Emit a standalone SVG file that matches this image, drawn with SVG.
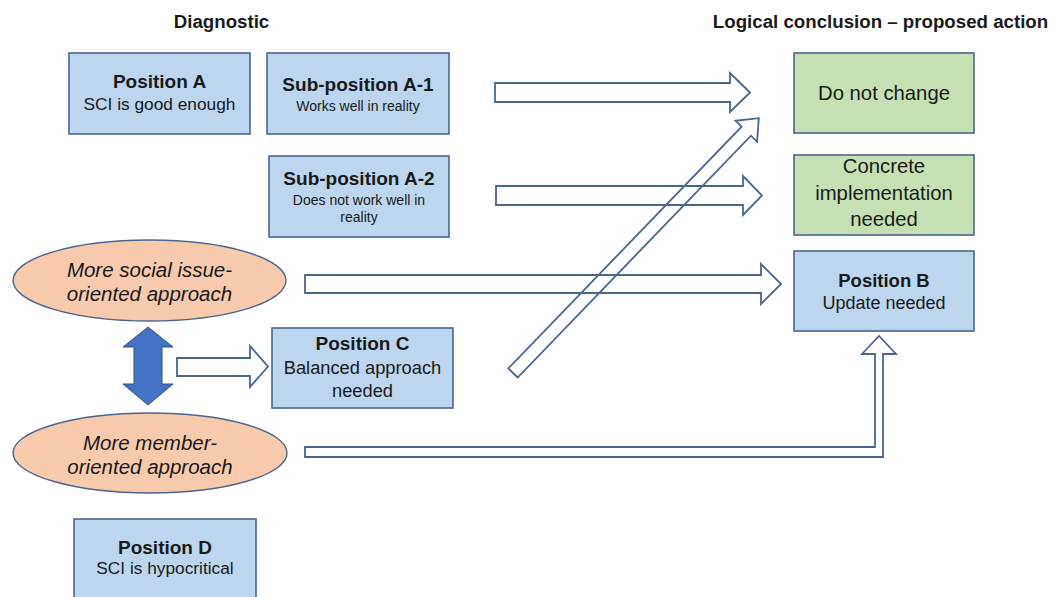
<svg xmlns="http://www.w3.org/2000/svg" width="1055" height="597" viewBox="0 0 1055 597">
<style>
text{font-family:"Liberation Sans",Arial,sans-serif;fill:#1a1a1a;text-anchor:middle}
.title{font-weight:bold;font-size:18.7px}
.bx{fill:#bdd6ee;stroke:#4a6690;stroke-width:1.6}
.gb{fill:#c6e0b4;stroke:#4a6690;stroke-width:1.6}
.el{fill:#f7caac;stroke:#4a6690;stroke-width:1.4}
.hd{font-weight:bold;font-size:19px}
.sub{font-size:17.3px}
.sm{font-size:14px}
.big{font-size:20.3px}
.it{font-style:italic;font-size:20.5px}
.arr{fill:none;stroke:#4a6690;stroke-width:1.8;stroke-linejoin:miter}
</style>
<rect width="1055" height="597" fill="#ffffff"/>
<text class="title" x="221.5" y="28">Diagnostic</text>
<text class="title" x="880.5" y="28">Logical conclusion – proposed action</text>

<g id="posA">
<rect class="bx" x="69" y="53" width="181" height="81"/>
<text class="hd" x="159.5" y="88">Position A</text>
<text class="sub" x="159.5" y="110">SCI is good enough</text>
</g>
<g id="subA1">
<rect class="bx" x="267" y="53" width="182" height="81"/>
<text class="hd" x="358" y="91">Sub-position A-1</text>
<text class="sm" x="358" y="111">Works well in reality</text>
</g>
<g id="subA2">
<rect class="bx" x="269" y="156" width="180" height="81"/>
<text class="hd" x="359" y="185">Sub-position A-2</text>
<text class="sm" x="359" y="205">Does not work well in</text>
<text class="sm" x="359" y="222">reality</text>
</g>
<g id="social">
<ellipse class="el" cx="149.5" cy="280.5" rx="136.5" ry="40.5"/>
<text class="it" x="149.5" y="277">More social issue-</text>
<text class="it" x="149.5" y="301">oriented approach</text>
</g>
<g id="posC">
<rect class="bx" x="272" y="328" width="181" height="80"/>
<text class="hd" x="362.5" y="350">Position C</text>
<text class="sub" x="362.5" y="374" style="font-size:18.3px">Balanced approach</text>
<text class="sub" x="362.5" y="397" style="font-size:18.3px">needed</text>
</g>
<g id="member">
<ellipse class="el" cx="150" cy="453" rx="137" ry="40"/>
<text class="it" x="150" y="449.5">More member-</text>
<text class="it" x="150" y="473.5">oriented approach</text>
</g>
<g id="posD">
<rect class="bx" x="74" y="519" width="182" height="81"/>
<text class="hd" x="165" y="554">Position D</text>
<text class="sub" x="165" y="574">SCI is hypocritical</text>
</g>
<g id="noChange">
<rect class="gb" x="794" y="53" width="180" height="80"/>
<text class="big" x="884" y="100">Do not change</text>
</g>
<g id="concrete">
<rect class="gb" x="794" y="155" width="180" height="80"/>
<text class="big" x="884" y="173">Concrete</text>
<text class="big" x="884" y="200">implementation</text>
<text class="big" x="884" y="226">needed</text>
</g>
<g id="posB">
<rect class="bx" x="794" y="251" width="180" height="80"/>
<text class="hd" x="884" y="287" style="font-size:18.5px">Position B</text>
<text class="sub" x="884" y="309" style="font-size:18px">Update needed</text>
</g>

<g id="connectors">
<polygon class="arr" points="495,83 730,83 730,73 750,92.5 730,112 730,102 495,102"/>
<polygon class="arr" points="496,186 743,186 743,176 762,195.5 743,215 743,205 496,205"/>
<polygon class="arr" points="305,275 761,275 761,264 781,284 761,304 761,293 305,293"/>
<polygon class="arr" points="177,358 250,358 250,346 268,366.5 250,387 250,376 177,376"/>
<polygon class="arr" transform="translate(513,373) rotate(-46.03)" points="0,-6.5 336,-6.5 336,-15 354,0 336,15 336,6.5 0,6.5"/>
<polygon class="arr" points="305,447 875,447 875,354 862,354 879,336 896,354 883,354 883,457 305,457"/>
<polygon fill="#4472c4" stroke="#2f528f" stroke-width="1" points="148,327 173,347 162,347 162,384 173,384 148,405 123,384 134,384 134,347 123,347"/>
</g>
</svg>
